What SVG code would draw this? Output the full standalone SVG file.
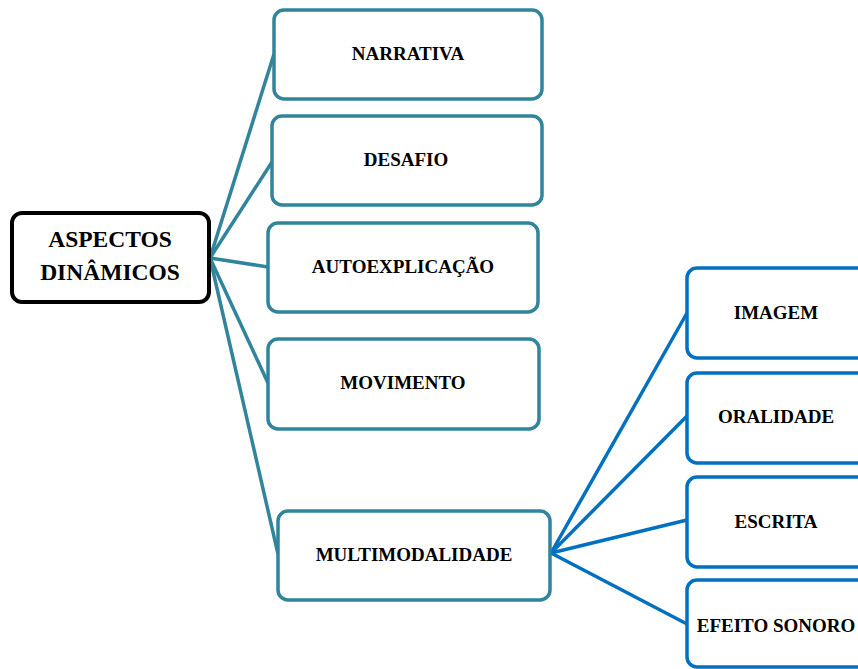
<svg xmlns="http://www.w3.org/2000/svg" width="858" height="669" viewBox="0 0 858 669">
<style>
.t{fill:#fff;stroke:#31849B;stroke-width:3.5}
.b{fill:#fff;stroke:#0070C0;stroke-width:3.5}
.c{fill:#fff;stroke:#000;stroke-width:4}
.lt{stroke:#31849B;stroke-width:3.5;fill:none}
.lb{stroke:#0070C0;stroke-width:3.5;fill:none}
text{font-family:'Liberation Serif','DejaVu Serif',serif;font-weight:700;fill:#000;text-anchor:middle}
.s{font-size:19px}
.m{font-size:23.5px}
</style>
<rect width="858" height="669" fill="#fff"/>
<g id="connectors">
<line class="lt" x1="210" y1="258" x2="274" y2="54"/>
<line class="lt" x1="210" y1="258" x2="272" y2="162"/>
<line class="lt" x1="210" y1="258" x2="268" y2="267"/>
<line class="lt" x1="210" y1="258" x2="268" y2="383"/>
<line class="lt" x1="210" y1="258" x2="278" y2="554"/>
<line class="lb" x1="551" y1="553" x2="687" y2="313"/>
<line class="lb" x1="551" y1="553" x2="687" y2="416"/>
<line class="lb" x1="551" y1="553" x2="687" y2="520"/>
<line class="lb" x1="551" y1="553" x2="687" y2="624"/>
</g>
<g id="aspectos">
<rect class="c" x="12" y="213" width="197" height="89" rx="10"/>
<text class="m" x="110" y="247">ASPECTOS</text>
<text class="m" x="110" y="280">DINÂMICOS</text>
</g>
<g id="narrativa">
<rect class="t" x="274" y="10" width="268" height="89" rx="10"/>
<text class="s" x="408" y="60">NARRATIVA</text>
</g>
<g id="desafio">
<rect class="t" x="272" y="116" width="270" height="89" rx="10"/>
<text class="s" x="406" y="166">DESAFIO</text>
</g>
<g id="autoexplicacao">
<rect class="t" x="268" y="223" width="270" height="89" rx="10"/>
<text class="s" x="403" y="273">AUTOEXPLICAÇÃO</text>
</g>
<g id="movimento">
<rect class="t" x="268" y="339" width="271" height="90" rx="10"/>
<text class="s" x="403" y="389">MOVIMENTO</text>
</g>
<g id="multimodalidade">
<rect class="t" x="278" y="511" width="272" height="89" rx="10"/>
<text class="s" x="414" y="561">MULTIMODALIDADE</text>
</g>
<g id="imagem">
<rect class="b" x="687" y="268" width="200" height="90" rx="10"/>
<text class="s" x="776" y="319">IMAGEM</text>
</g>
<g id="oralidade">
<rect class="b" x="687" y="373" width="200" height="90" rx="10"/>
<text class="s" x="776" y="423">ORALIDADE</text>
</g>
<g id="escrita">
<rect class="b" x="687" y="477" width="200" height="90" rx="10"/>
<text class="s" x="776" y="528">ESCRITA</text>
</g>
<g id="efeito">
<rect class="b" x="687" y="580" width="200" height="87" rx="10"/>
<text class="s" x="776" y="632">EFEITO SONORO</text>
</g>
</svg>
